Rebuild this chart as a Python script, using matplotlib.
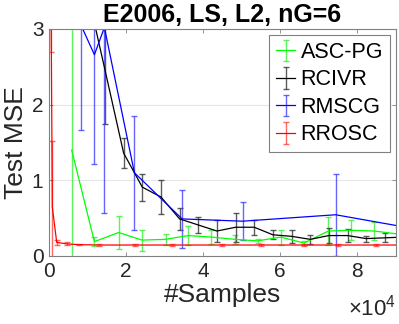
import numpy as np
import matplotlib
matplotlib.use("Agg")
import matplotlib.pyplot as plt

plt.rcParams['font.family'] = ['Liberation Sans', 'DejaVu Sans']
plt.rcParams['mathtext.fontset'] = 'custom'
plt.rcParams['mathtext.rm'] = 'Liberation Sans'
plt.rcParams['mathtext.it'] = 'Liberation Sans:italic'

title = "E2006, LS, L2, nG=6"
xlabel = "#Samples"
ylabel = "Test MSE"
series_names = ["ASC-PG", "RCIVR", "RMSCG", "RROSC"]

ascpg_x = [5900, 11800, 18100, 24200, 30300, 36200, 42200, 48300, 54200, 60300, 66300, 72600, 78500, 84600, 90700]
ascpg_y = [1.40, 0.19, 0.31, 0.21, 0.22, 0.27, 0.25, 0.22, 0.20, 0.25, 0.17, 0.33, 0.34, 0.33, 0.29]
ascpg_e = [2.00, 0.06, 0.22, 0.14, 0.07, 0.13, 0.09, 0.06, 0.03, 0.10, 0.03, 0.18, 0.13, 0.12, 0.09]

rcivr_x = [4850, 9700, 14550, 19400, 24250, 29100, 33950, 38800, 43650, 48500, 53350, 58200, 63050, 67900, 72750, 77600, 82450, 87300, 92150]
rcivr_y = [6.00, 3.55, 2.46, 1.36, 0.91, 0.78, 0.49, 0.41, 0.33, 0.38, 0.38, 0.28, 0.26, 0.22, 0.27, 0.27, 0.23, 0.24, 0.25]
rcivr_e = [1.00, 0.50, 0.72, 0.20, 0.18, 0.23, 0.15, 0.10, 0.15, 0.19, 0.10, 0.06, 0.09, 0.06, 0.10, 0.09, 0.04, 0.06, 0.05]

rmscg_x = [8330, 11800, 14400, 22200, 34600, 50300, 74500, 95000]
rmscg_y = [3.05, 2.66, 3.02, 1.10, 0.49, 0.46, 0.545, 0.36]
rmscg_e = [1.38, 1.44, 2.45, 0.75, 0.38, 0.25, 0.54, 0.20]

rrosc_x = [400, 860, 2000, 4600, 7800, 13000, 22400, 32000, 45000, 55000, 66300, 75000, 85000, 95000]
rrosc_y = [4.50, 0.65, 0.18, 0.16, 0.15, 0.145, 0.145, 0.145, 0.145, 0.145, 0.145, 0.145, 0.145, 0.145]
rrosc_e = [1.81, 0.87, 0.03, 0.02, 0.01, 0.01, 0.01, 0.01, 0.01, 0.01, 0.01, 0.01, 0.01, 0.01]

xscale = 1e4

fig = plt.figure(figsize=(3.99, 3.24), dpi=100)
ax = fig.add_axes([0.1228, 0.2099, 0.8697, 0.7006])

specs = [
    (ascpg_x, ascpg_y, ascpg_e, (0, 1, 0), (0.2, 0.95, 0.2, 0.8)),
    (rcivr_x, rcivr_y, rcivr_e, (0, 0, 0), (0.2, 0.2, 0.2, 0.8)),
    (rmscg_x, rmscg_y, rmscg_e, (0, 0, 1), (0.2, 0.2, 1, 0.75)),
    (rrosc_x, rrosc_y, rrosc_e, (1, 0, 0), (1, 0.2, 0.2, 0.75)),
]
for (x, y, e, c, ec), name in zip(specs, series_names):
    ax.errorbar(np.array(x) / xscale, y, yerr=e, color=c, ecolor=ec,
                lw=0.9, elinewidth=1.0, capsize=2.5, capthick=1.0, label=name)

ax.set_xlim(0, 9.02)
ax.set_ylim(0, 3)
ax.set_xticks([0, 2, 4, 6, 8])
ax.set_yticks([0, 1, 2, 3])
ax.yaxis.grid(True, color='#e6e6e6', lw=0.8)
ax.set_axisbelow(True)
for s in ax.spines.values():
    s.set_color('#808080')
    s.set_linewidth(0.8)
ax.tick_params(direction='in', length=3, width=0.6, color='#808080',
               labelsize=15, labelcolor='#262626', top=True, right=True, pad=4)
ax.set_title(title, fontsize=18, fontweight='bold', pad=5)
ax.set_xlabel(xlabel, fontsize=19, color='#262626', labelpad=2)
ax.set_ylabel(ylabel, fontsize=19, color='#262626', labelpad=3)
ax.text(1.0, -0.262, r'$\times10^{4}$', transform=ax.transAxes, ha='right', va='baseline',
        fontsize=16, color='#262626')

leg = ax.legend(loc='upper right', fontsize=15.5, fancybox=False, framealpha=1,
                edgecolor='#808080', borderaxespad=0.3, handlelength=0.9,
                handletextpad=0.25, labelspacing=0.3, borderpad=0.3)
leg.get_frame().set_linewidth(0.8)

fig.savefig("out.png", dpi=100)
